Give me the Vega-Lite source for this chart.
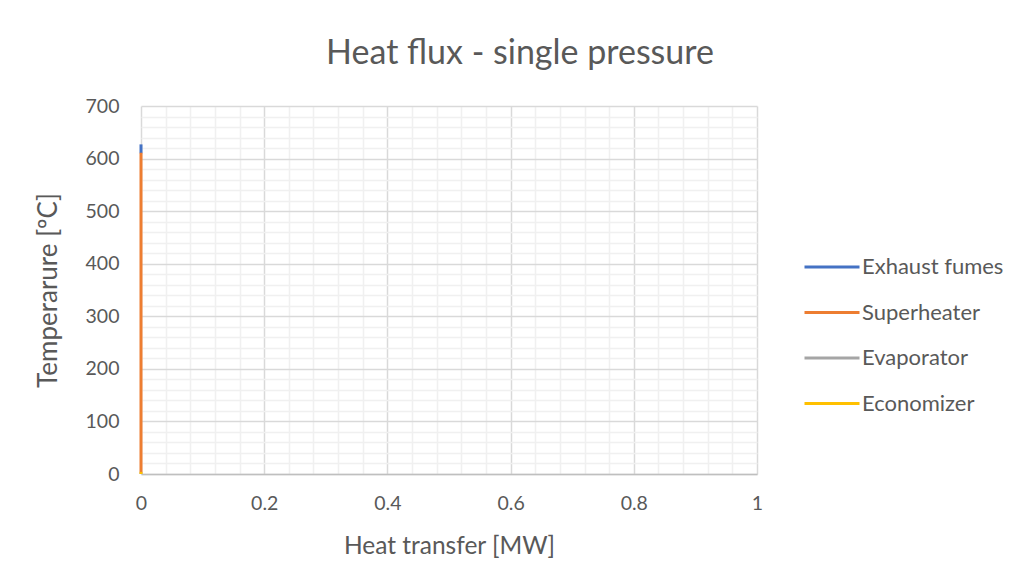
{
  "$schema": "https://vega.github.io/schema/vega-lite/v6.json",
  "width": 616,
  "height": 368,
  "autosize": {"type": "none"},
  "padding": {"left": 141, "top": 106, "right": 262, "bottom": 114},
  "background": "white",
  "title": {
    "text": "Heat flux - single pressure",
    "anchor": "middle",
    "frame": "group",
    "dx": 71,
    "offset": -2,
    "baseline": "alphabetic",
    "font": "Lato",
    "fontSize": 34,
    "fontWeight": "normal",
    "color": "#595959"
  },
  "config": {
    "view": {"stroke": null},
    "font": "Lato",
    "axis": {
      "labelFont": "Lato",
      "titleFont": "Lato",
      "labelColor": "#595959",
      "titleColor": "#595959",
      "labelFontSize": 19.5,
      "titleFontSize": 24.5,
      "titleFontWeight": "normal",
      "ticks": false,
      "labelOverlap": false,
      "labelFlush": false,
      "gridWidth": 1.5
    },
    "legend": {
      "labelFont": "Lato",
      "labelFontSize": 22,
      "labelColor": "#595959"
    }
  },
  "data": {
    "values": [
      {"series": "Exhaust fumes", "q": 0, "t": 627, "i": 0},
      {"series": "Exhaust fumes", "q": 0, "t": 610, "i": 1},
      {"series": "Superheater", "q": 0, "t": 611, "i": 0},
      {"series": "Superheater", "q": 0, "t": 3, "i": 1},
      {"series": "Evaporator", "q": 0, "t": 3, "i": 0},
      {"series": "Evaporator", "q": 0, "t": 0, "i": 1},
      {"series": "Economizer", "q": 0, "t": 4, "i": 0},
      {"series": "Economizer", "q": 0, "t": 0, "i": 1}
    ]
  },
  "mark": {"type": "line", "strokeWidth": 3, "clip": false},
  "encoding": {
    "x": {
      "field": "q",
      "type": "quantitative",
      "title": "Heat transfer [MW]",
      "scale": {"domain": [0, 1], "nice": false, "zero": false},
      "axis": {
        "values": [0, 0.04, 0.08, 0.12, 0.16, 0.2, 0.24, 0.28, 0.32, 0.36, 0.4, 0.44, 0.48, 0.52, 0.56, 0.6, 0.64, 0.68, 0.72, 0.76, 0.8, 0.84, 0.88, 0.92, 0.96, 1],
        "labelExpr": "abs(datum.value*5 - round(datum.value*5)) < 1e-6 ? format(datum.value, '~g') : ''",
        "gridColor": {"condition": {"test": "abs(datum.value*5 - round(datum.value*5)) < 1e-6", "value": "#d9d9d9"}, "value": "#f0f0f0"},
        "domainColor": "#bfbfbf",
        "domainWidth": 1.5,
        "labelPadding": 20,
        "titlePadding": 22
      }
    },
    "y": {
      "field": "t",
      "type": "quantitative",
      "title": "Temperarure [ºC]",
      "scale": {"domain": [0, 700], "nice": false},
      "axis": {
        "values": [0, 20, 40, 60, 80, 100, 120, 140, 160, 180, 200, 220, 240, 260, 280, 300, 320, 340, 360, 380, 400, 420, 440, 460, 480, 500, 520, 540, 560, 580, 600, 620, 640, 660, 680, 700],
        "labelExpr": "datum.value % 100 === 0 ? datum.label : ''",
        "gridColor": {"condition": {"test": "datum.value % 100 === 0", "value": "#d9d9d9"}, "value": "#f0f0f0"},
        "domain": false,
        "labelPadding": 22,
        "titlePadding": 24,
        "titleFontSize": 26
      }
    },
    "color": {
      "field": "series",
      "type": "nominal",
      "scale": {
        "domain": ["Exhaust fumes", "Superheater", "Evaporator", "Economizer"],
        "range": ["#4472C4", "#ED7D31", "#A5A5A5", "#FFC000"]
      },
      "legend": {
        "title": null,
        "orient": "none",
        "legendX": 662,
        "legendY": 151,
        "padding": 0,
        "symbolType": "stroke",
        "symbolSize": 3025,
        "symbolStrokeWidth": 3,
        "clipHeight": 20,
        "rowPadding": 23.5,
        "labelOffset": 1
      }
    },
    "order": {"field": "i", "type": "quantitative"}
  }
}
